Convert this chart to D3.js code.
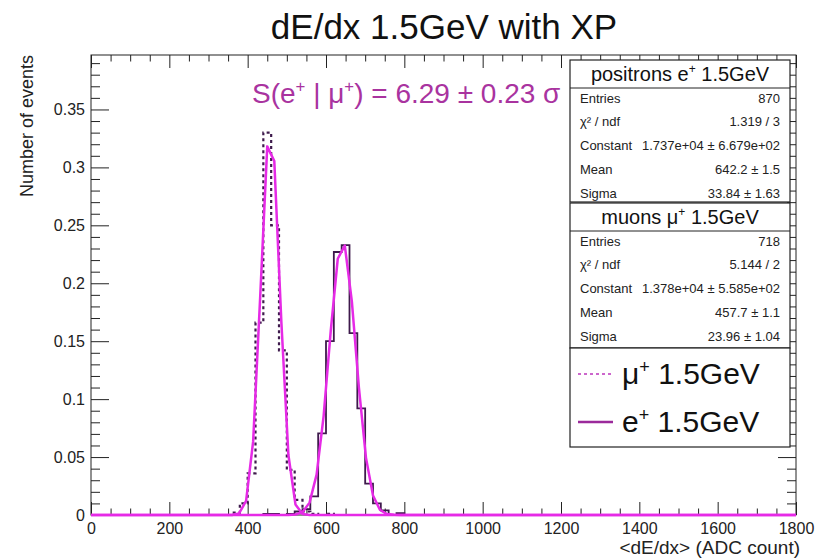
<!DOCTYPE html>
<html>
<head>
<meta charset="utf-8">
<script src="https://cdn.jsdelivr.net/npm/d3@7"></script>
<style>
  body { margin: 0; background: #fff; }
  svg { display: block; }
  text { font-family: "Liberation Sans", Arial, sans-serif; }
</style>
</head>
<body>
<svg id="chart" width="823" height="560"></svg>
<script>
// histogram bins (20 ADC counts wide), only the non-empty region is listed
const binWidth = 20;
const binStarts = [360, 380, 400, 420, 440, 460, 480, 500, 520, 540, 560,
                   580, 600, 620, 640, 660, 680, 700, 720, 740, 760, 780];
const muonValues = [0.002, 0.010, 0.036, 0.166, 0.330, 0.250, 0.142, 0.039, 0.013, 0.003, 0.001,
                    0, 0.001, 0, 0, 0, 0, 0, 0, 0, 0, 0];
const positronValues = [0, 0, 0, 0, 0.001, 0.001, 0, 0.001, 0.003, 0.005, 0.016,
                        0.0705, 0.150, 0.227, 0.233, 0.157, 0.092, 0.027, 0.010, 0.004, 0, 0.0015];

// gaussian fits, as given in the stat boxes (peak height)
const fitMeans = [642.2, 457.7];   // positrons, muons
const fitSigmas = [33.84, 23.96];
const fitPeaks = [0.236, 0.335];

const xTicks = [0, 200, 400, 600, 800, 1000, 1200, 1400, 1600, 1800];
const xTickLabels = ['0', '200', '400', '600', '800', '1000', '1200', '1400', '1600', '1800'];
const yTicks = [0, 0.05, 0.1, 0.15, 0.2, 0.25, 0.3, 0.35];
const yTickLabels = ['0', '0.05', '0.1', '0.15', '0.2', '0.25', '0.3', '0.35'];

const statLabels = ['Entries', 'χ² / ndf', 'Constant', 'Mean', 'Sigma'];
const positronStats = ['870', '1.319 / 3', '1.737e+04 ± 6.679e+02', '642.2 ± 1.5', '33.84 ± 1.63'];
const muonStats = ['718', '5.144 / 2', '1.378e+04 ± 5.585e+02', '457.7 ± 1.1', '23.96 ± 1.04'];

const histColor = '#3e1a4c';
const fitColor = '#e62ae6';

const svg = d3.select('#chart');

const x = d3.scaleLinear().domain([0, 1800]).range([91, 796]);
const y = d3.scaleLinear().domain([0, 0.397]).range([515, 55]);

// writes text made of pieces, "sup" pieces are raised and smaller
let richText = (sel, parts, size) => {
  let shift = size * 0.38;
  let raised = false;
  parts.forEach(p => {
    let ts = sel.append('tspan').text(p.t);
    if (p.sup) {
      ts.attr('dy', -shift).attr('font-size', size * 0.6);
      raised = true;
    } else {
      ts.attr('font-size', size);
      if (raised) { ts.attr('dy', shift); raised = false; }
    }
  });
  return sel;
};

// frame
svg.append('rect')
  .attr('x', x(0)).attr('y', y.range()[1])
  .attr('width', x(1800) - x(0)).attr('height', y(0) - y.range()[1])
  .attr('fill', 'none').attr('stroke', '#222').attr('stroke-width', 1);

let addTicks = (axis, transform, fontSize) => {
  let g = svg.append('g').attr('transform', transform).call(axis);
  g.select('.domain').remove();
  g.selectAll('line').attr('stroke', '#222');
  g.attr('font-family', null).attr('font-size', fontSize).selectAll('text').attr('fill', '#222');
  return g;
};

let xMinor = d3.range(0, 1801, 50).filter(v => v % 200 !== 0);
let yMinor = d3.range(0, 0.3961, 0.01).filter((v, i) => i % 5 !== 0);

addTicks(d3.axisBottom(x).tickValues(xTicks).tickSize(-13).tickPadding(8)
  .tickFormat((d, i) => xTickLabels[i]), `translate(0,${y(0)})`, 16);
addTicks(d3.axisBottom(x).tickValues(xMinor).tickSize(-6.5).tickFormat(''), `translate(0,${y(0)})`, 0);
addTicks(d3.axisTop(x).tickValues(xTicks).tickSize(-13).tickFormat(''), `translate(0,${y.range()[1]})`, 0);
addTicks(d3.axisTop(x).tickValues(xMinor).tickSize(-6.5).tickFormat(''), `translate(0,${y.range()[1]})`, 0);

addTicks(d3.axisLeft(y).tickValues(yTicks).tickSize(-18).tickPadding(6)
  .tickFormat((d, i) => yTickLabels[i]), `translate(${x(0)},0)`, 16);
addTicks(d3.axisLeft(y).tickValues(yMinor).tickSize(-9).tickFormat(''), `translate(${x(0)},0)`, 0);
addTicks(d3.axisRight(y).tickValues(yTicks).tickSize(-18).tickFormat(''), `translate(${x(1800)},0)`, 0);
addTicks(d3.axisRight(y).tickValues(yMinor).tickSize(-9).tickFormat(''), `translate(${x(1800)},0)`, 0);

// histograms as step outlines over the whole axis
let histPoints = (values) => {
  let pts = [[0, 0]];
  for (let b = 0; b < 1800; b += binWidth) {
    let i = binStarts.indexOf(b);
    let v = i >= 0 ? values[i] : 0;
    pts.push([b, v], [b + binWidth, v]);
  }
  pts.push([1800, 0]);
  return pts;
};

const line = d3.line().x(d => x(d[0])).y(d => y(d[1]));

svg.append('path')
  .attr('d', line(histPoints(muonValues)))
  .attr('fill', 'none').attr('stroke', histColor).attr('stroke-width', 2.2)
  .attr('stroke-dasharray', '3,3');

svg.append('path')
  .attr('d', line(histPoints(positronValues)))
  .attr('fill', 'none').attr('stroke', histColor).attr('stroke-width', 1.8);

// fit functions, sampled like ROOT does (100 steps over the axis)
fitMeans.forEach((m, k) => {
  let pts = d3.range(0, 101).map(i => {
    let xv = i * 18;
    return [xv, fitPeaks[k] * Math.exp(-0.5 * Math.pow((xv - m) / fitSigmas[k], 2))];
  });
  svg.append('path')
    .attr('d', line(pts))
    .attr('fill', 'none').attr('stroke', fitColor).attr('stroke-width', 2.5)
    .attr('stroke-linejoin', 'round');
});

// title and axis titles
svg.append('text')
  .attr('x', 444).attr('y', 39).attr('text-anchor', 'middle')
  .attr('font-size', 35).attr('fill', '#111')
  .text('dE/dx 1.5GeV with XP');

svg.append('text')
  .attr('transform', 'translate(33,55) rotate(-90)')
  .attr('text-anchor', 'end').attr('font-size', 18).attr('fill', '#222')
  .text('Number of events');

svg.append('text')
  .attr('x', 800).attr('y', 554).attr('text-anchor', 'end')
  .attr('font-size', 19).attr('fill', '#222')
  .text('<dE/dx> (ADC count)');

// separation text
richText(svg.append('text').attr('x', 252).attr('y', 103).attr('fill', '#a9339f'), [
  {t: 'S(e'}, {t: '+', sup: true}, {t: ' | μ'}, {t: '+', sup: true}, {t: ') = 6.29 ± 0.23 σ'}
], 28);

// stat boxes
let statBox = (top, height, titleParts, values) => {
  let bx = 570, bw = 220;
  svg.append('rect').attr('x', bx).attr('y', top).attr('width', bw).attr('height', height)
    .attr('fill', '#fff').attr('stroke', '#222').attr('stroke-width', 1.2);
  svg.append('line').attr('x1', bx).attr('x2', bx + bw)
    .attr('y1', top + 28).attr('y2', top + 28).attr('stroke', '#222');
  richText(svg.append('text').attr('x', bx + bw / 2).attr('y', top + 21)
    .attr('text-anchor', 'middle').attr('fill', '#111'), titleParts, 20);
  statLabels.forEach((lab, i) => {
    let cy = top + 38 + i * 23.8 + 4.5;
    svg.append('text').attr('x', bx + 10).attr('y', cy).attr('font-size', 13)
      .attr('fill', '#222').text(lab);
    svg.append('text').attr('x', bx + bw - 10).attr('y', cy).attr('font-size', 13)
      .attr('text-anchor', 'end').attr('fill', '#222').text(values[i]);
  });
};

statBox(60, 142, [{t: 'positrons e'}, {t: '+', sup: true}, {t: ' 1.5GeV'}], positronStats);
statBox(203, 145, [{t: 'muons μ'}, {t: '+', sup: true}, {t: ' 1.5GeV'}], muonStats);

// legend
svg.append('rect').attr('x', 570).attr('y', 348).attr('width', 220).attr('height', 99)
  .attr('fill', '#fff').attr('stroke', '#222').attr('stroke-width', 1.2);

svg.append('line').attr('x1', 578).attr('x2', 613).attr('y1', 374).attr('y2', 374)
  .attr('stroke', '#cc66cc').attr('stroke-width', 2).attr('stroke-dasharray', '3,3');
richText(svg.append('text').attr('x', 622).attr('y', 384).attr('fill', '#111'),
  [{t: 'μ'}, {t: '+', sup: true}, {t: ' 1.5GeV'}], 30);

svg.append('line').attr('x1', 578).attr('x2', 613).attr('y1', 422).attr('y2', 422)
  .attr('stroke', '#9b2a9b').attr('stroke-width', 2.5);
richText(svg.append('text').attr('x', 622).attr('y', 432).attr('fill', '#111'),
  [{t: 'e'}, {t: '+', sup: true}, {t: ' 1.5GeV'}], 30);
</script>
</body>
</html>
